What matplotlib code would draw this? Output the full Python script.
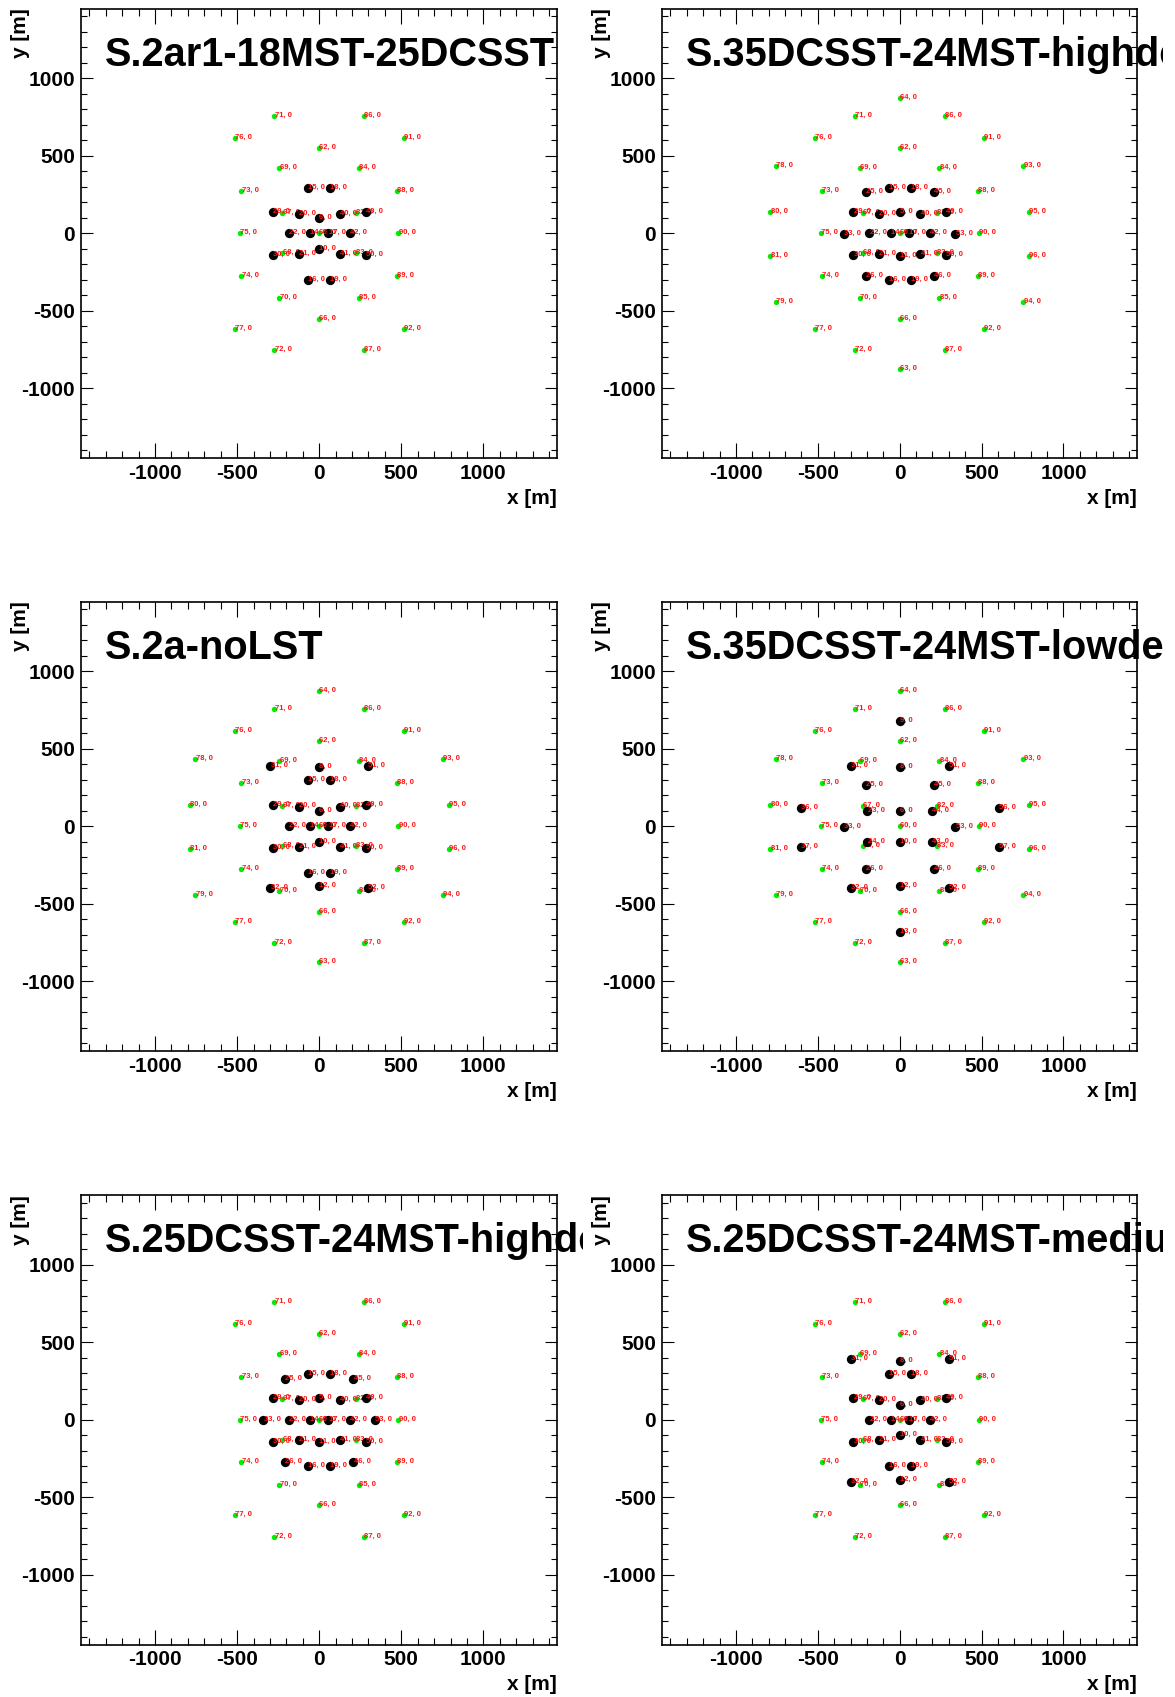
import matplotlib
matplotlib.use("Agg")
import matplotlib.pyplot as plt
from matplotlib.ticker import MultipleLocator
from matplotlib.transforms import Bbox, TransformedBbox

plt.rcParams["font.family"] = ["Liberation Sans", "DejaVu Sans"]
plt.rcParams["axes.unicode_minus"] = False

# Telescope ground positions [m]
tel_id = [5, 6, 8, 9, 10, 11, 12, 13, 14, 15, 16, 17, 18, 19, 20, 21, 22, 23, 24,
          25, 26, 29, 30, 31, 32, 33, 36, 37, 40, 41, 42, 43, 44, 45, 46, 49, 50,
          51, 52, 53, 56, 57,
          60, 62, 63, 64, 66, 67, 68, 69, 70, 71, 72, 73, 74, 75, 76, 77, 78, 79,
          80, 81, 82, 83, 84, 85, 86, 87, 88, 89, 90, 91, 92, 93, 94, 95, 96]
tel_x = [0, 0, 0, 0, 0, 0, 0, 0, -56, -67, -67, 56, 67, 67, -126, -126, -186, -198, -198,
         -208, -208, -283, -283, -298, -298, -340, -605, -605, 126, 126, 186, 198, 198, 208, 208, 283, 283,
         298, 298, 340, 605, 605,
         0, 0, 0, 0, 0, -225, -225, -242, -242, -274, -274, -475, -475, -482, -516, -516, -755, -755,
         -790, -790, 225, 225, 242, 242, 274, 274, 475, 475, 482, 516, 516, 755, 755, 790, 790]
tel_y = [140, 97, 380, 678, -101, -143, -387, -681, 0, 296, -300, 0, 296, -300, 128, -133, 0, 96, -103,
         266, -273, 139, -142, 392, -400, -4, 121, -131, 128, -133, 0, -103, 96, 266, -273, 139, -142,
         392, -400, -4, 121, -131,
         0, 551, -875, 875, -551, 133, -129, 421, -418, 757, -755, 277, -275, 0, 618, -616, 435, -440,
         139, -144, 133, -129, 421, -418, 757, -755, 277, -275, 0, 618, -616, 435, -440, 139, -144]

# Small-telescope sets
sst_25 = [60, 62, 66, 67, 68, 69, 70, 71, 72, 73, 74, 75, 76, 77,
          82, 83, 84, 85, 86, 87, 88, 89, 90, 91, 92]
sst_35 = sst_25 + [63, 64, 78, 79, 80, 81, 93, 94, 95, 96]

# Medium-telescope sets
mst_18 = [6, 10, 14, 15, 16, 17, 18, 19, 20, 21, 22, 29, 30, 40, 41, 42, 49, 50]
mst_24_high = [5, 11, 14, 15, 16, 17, 18, 19, 20, 21, 22, 25, 26, 29, 30, 33,
               40, 41, 42, 45, 46, 49, 50, 53]
mst_24_medium = mst_18 + [8, 12, 31, 32, 51, 52]
mst_24_low = [6, 8, 9, 10, 12, 13, 23, 24, 25, 26, 31, 32, 33, 36, 37, 43, 44,
              45, 46, 51, 52, 53, 56, 57]

layout_names = ["S.2ar1-18MST-25DCSST", "S.35DCSST-24MST-highdensity",
                "S.2a-noLST", "S.35DCSST-24MST-lowdensity",
                "S.25DCSST-24MST-highdensity", "S.25DCSST-24MST-mediumdensity"]
layout_sst = [sst_25, sst_35, sst_35, sst_35, sst_25, sst_25]
layout_mst = [mst_18, mst_24_high, mst_24_medium, mst_24_low, mst_24_high, mst_24_medium]

pos = {t: (x, y) for t, x, y in zip(tel_id, tel_x, tel_y)}

W, H = 1175, 1697
fig = plt.figure(figsize=(W / 100, H / 100), dpi=100)

col_left = [81.2, 662.2]
col_width = [476.0, 475.0]
row_top = [8.7, 601.6, 1195.0]
frame_h = 449.5
clip_right = [583.0, 1163.0]

LIM = 1450
RED = "#ff1414"


def label_points(ax, ids, z):
    for t in ids:
        ax.annotate(f"{t}, 0", pos[t], xytext=(0.2, -0.6), textcoords="offset points",
                    fontsize=5.5, fontweight="bold", color=RED, ha="left",
                    va="baseline", zorder=z)


def draw_panel(k):
    r, c = divmod(k, 2)
    left, width, top = col_left[c], col_width[c], row_top[r]
    ax = fig.add_axes([left / W, 1 - (top + frame_h) / H, width / W, frame_h / H])
    ax.set_xlim(-LIM, LIM)
    ax.set_ylim(-LIM, LIM)

    sx = [pos[t][0] for t in layout_sst[k]]
    sy = [pos[t][1] for t in layout_sst[k]]
    ax.plot(sx, sy, "o", ls="none", color="#00ee00", ms=3.9, mew=0, zorder=2)
    label_points(ax, layout_sst[k], 3)
    mx = [pos[t][0] for t in layout_mst[k]]
    my = [pos[t][1] for t in layout_mst[k]]
    ax.plot(mx, my, "o", ls="none", color="black", ms=6.7, mew=0, zorder=4)
    label_points(ax, layout_mst[k], 5)

    ax.xaxis.set_major_locator(MultipleLocator(500))
    ax.xaxis.set_minor_locator(MultipleLocator(100))
    ax.yaxis.set_major_locator(MultipleLocator(500))
    ax.yaxis.set_minor_locator(MultipleLocator(100))
    ax.tick_params(axis="both", which="both", direction="in", top=True, right=True,
                   width=0.8, labelsize=15)
    ax.tick_params(axis="x", which="major", length=10.5, pad=4)
    ax.tick_params(axis="x", which="minor", length=5.2)
    ax.tick_params(axis="y", which="major", length=8.6, pad=4.5)
    ax.tick_params(axis="y", which="minor", length=4.3)
    for lab in ax.get_xticklabels() + ax.get_yticklabels():
        lab.set_fontweight("bold")
    for sp in ax.spines.values():
        sp.set_linewidth(1.2)

    # axis titles
    fig.text((left + width) / W, 1 - (top + frame_h + 40) / H, "x [m]",
             ha="right", va="center", fontsize=15, fontweight="bold")
    fig.text((left - 60.5) / W, 1 - top / H, "y [m]", rotation=90,
             ha="center", va="top", fontsize=15, fontweight="bold")

    # layout name, clipped at the pad edge
    t = fig.text((left + 24) / W, 1 - (top + 57) / H, layout_names[k],
                 ha="left", va="baseline", fontsize=28.6, fontweight="bold",
                 clip_on=True, zorder=10)
    pad_x0 = 0.0 if c == 0 else 587.5
    box = Bbox.from_extents(pad_x0 / W, 0.0, clip_right[c] / W, 1.0)
    t.set_clip_box(TransformedBbox(box, fig.transFigure))


for k in range(6):
    draw_panel(k)

fig.savefig("out.png", dpi=100, facecolor="white")
